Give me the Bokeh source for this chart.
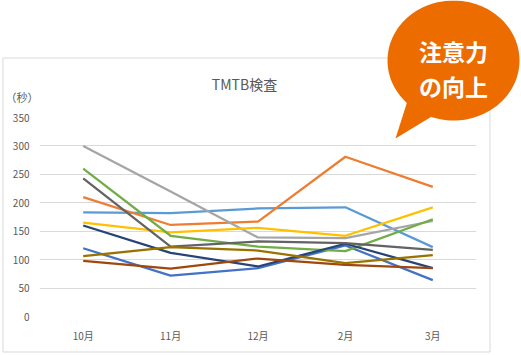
import numpy as np
from bokeh.plotting import figure
from bokeh.layouts import column
from bokeh.models import FixedTicker, Range1d
from bokeh.core.properties import value
from bokeh.embed import file_html
from bokeh.resources import INLINE

months = ["10月", "11月", "12月", "2月", "3月"]
s_lightblue = [183, 182, 190, 192, 122]
s_orange = [210, 161, 167, 281, 228]
s_gray = [300, 220, 139, 138, 168]
s_yellow = [165, 148, 156, 142, 192]
s_blue = [120, 72, 85, 125, 64]
s_green = [260, 142, 123, 115, 171]
s_navy = [160, 112, 88, 128, 85]
s_brown = [98, 84, 102, 91, 85]
s_darkgray = [243, 123, 132, 129, 117]
s_olive = [106, 122, 116, 94, 108]
y_ticks = [0, 50, 100, 150, 200, 250, 300, 350]

series = [
    (s_lightblue, "#5B9BD5"),
    (s_orange, "#ED7D31"),
    (s_gray, "#A5A5A5"),
    (s_yellow, "#FFC000"),
    (s_blue, "#4472C4"),
    (s_green, "#70AD47"),
    (s_navy, "#264478"),
    (s_brown, "#9E480E"),
    (s_darkgray, "#636363"),
    (s_olive, "#997300"),
]

W, H = 521, 355
FL, FR, FT, FB = 39, 476, 117, 316  # plot-area edges in canvas pixels
FONT = "Noto Sans CJK JP"
TXT = "#595959"

# ---- chart layer ----
p = figure(width=W, height=H, x_range=months, y_range=(0, 350),
           output_backend="svg", toolbar_location=None,
           min_border_left=FL, min_border_right=W - FR,
           min_border_top=FT, min_border_bottom=H - FB)
p.frame_align = False
p.x_range.range_padding = 0
p.outline_line_color = None
p.background_fill_color = "white"
p.border_fill_color = "white"
p.xgrid.grid_line_color = None
p.ygrid.grid_line_color = "#D9D9D9"
p.ygrid.grid_line_width = 1
p.yaxis.ticker = FixedTicker(ticks=y_ticks)
for ax in (p.xaxis[0], p.yaxis[0]):
    ax.axis_line_color = None
    ax.major_tick_line_color = None
    ax.minor_tick_line_color = None
    ax.major_tick_out = 0
    ax.major_tick_in = 0
    ax.major_label_text_font = FONT
    ax.major_label_text_font_size = "10px"
    ax.major_label_text_color = TXT
p.yaxis.major_label_standoff = 10
p.xaxis.major_label_standoff = 11

for vals, col in series:
    p.line(months, vals, line_color=col, line_width=2.25)

# ---- decoration layer (pixel coordinates, y down) ----
d = figure(width=W, height=H, x_range=Range1d(0, W), y_range=Range1d(H, 0),
           output_backend="svg", toolbar_location=None,
           x_axis_type=None, y_axis_type=None,
           min_border=0, min_border_left=0, min_border_right=0,
           min_border_top=0, min_border_bottom=0)
d.frame_align = False
d.grid.visible = False
d.outline_line_color = None
d.background_fill_color = None
d.border_fill_color = None
d.title.text = ""

# outer chart frame
d.quad(left=[2.5], right=[489.5], top=[57.5], bottom=[351.5],
       fill_color=None, line_color="#D9D9D9", line_width=1)

d.text(x=[244], y=[83], text=["TMTB検査"], text_align="center",
       text_baseline="middle", text_font=value(FONT), text_font_size="14px",
       text_color=TXT)
d.text(x=[5], y=[96], text=["（秒）"], text_align="left",
       text_baseline="middle", text_font=value(FONT), text_font_size="11px",
       text_color=TXT)

# speech bubble
cx, cy, rx, ry = 453, 60, 66, 60
a_left, a_right = np.deg2rad(135), np.deg2rad(110)
angs = np.linspace(a_left, a_left + 2 * np.pi - (a_left - a_right), 120)
bx = list(cx + rx * np.cos(angs)) + [395]
by = list(cy + ry * np.sin(angs)) + [138]
d.patch(bx, by, fill_color="#EC6C00", line_color=None)
d.text(x=[453, 453], y=[50, 85], text=["注意力", "の向上"], text_align="center",
       text_baseline="middle", text_font=value(FONT), text_font_size="23px",
       text_font_style="bold", text_color="white")

d.styles = {"position": "absolute", "top": "0px", "left": "0px"}
root = column(p, d, styles={"position": "relative"})

open("out.html", "w").write(file_html(root, INLINE))
